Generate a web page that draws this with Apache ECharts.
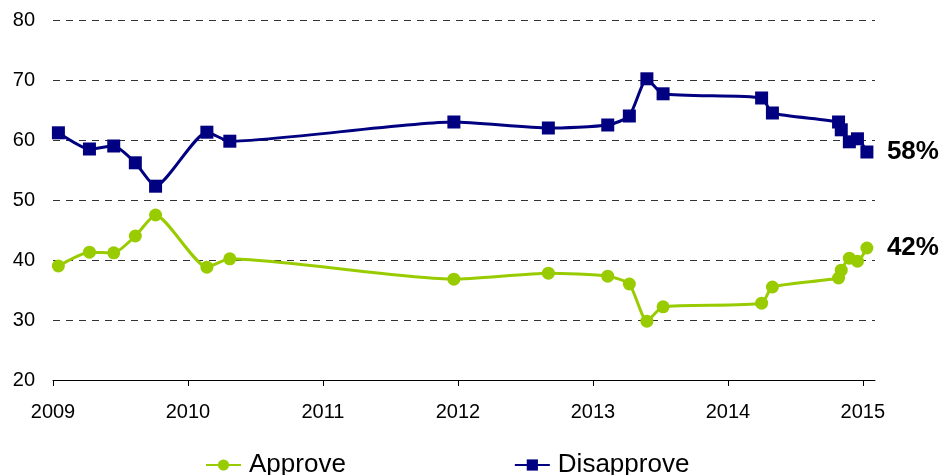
<!DOCTYPE html>
<html>
<head>
<meta charset="utf-8">
<script src="https://cdn.jsdelivr.net/npm/echarts@6/dist/echarts.min.js"></script>
<style>
  html, body { margin: 0; padding: 0; background: #fff; }
  #myChart { width: 945px; height: 475px; }
</style>
</head>
<body>
<div id="myChart"></div>
<script>
// survey dates as decimal years
var surveyDates = [2009.04, 2009.27, 2009.45, 2009.61, 2009.76, 2010.14, 2010.31, 2011.97, 2012.67, 2013.11,
                   2013.27, 2013.40, 2013.52, 2014.25, 2014.33, 2014.82, 2014.84, 2014.90, 2014.96, 2015.03];
var approve    = [39.0, 41.3, 41.2, 44.0, 47.5, 38.8, 40.2, 36.8, 37.8, 37.3,
                  36.0, 29.8, 32.2, 32.8, 35.5, 37.0, 38.3, 40.3, 39.8, 42.0];
var disapprove = [61.2, 58.5, 59.0, 56.2, 52.3, 61.3, 59.8, 63.0, 62.0, 62.5,
                  64.0, 70.2, 67.7, 67.0, 64.5, 63.0, 61.7, 59.7, 60.2, 58.0];
var yearTicks = [2009, 2010, 2011, 2012, 2013, 2014, 2015];

var font = 'Arial, "Liberation Sans", sans-serif';

function pairs(vals) {
    return surveyDates.map(function (d, i) { return [d, vals[i]]; });
}

var myChart = echarts.init(document.getElementById('myChart'));
var option = {
    animation: false,
    grid: { left: 53, right: 70, top: 20, bottom: 95, containLabel: false },
    legend: {
        left: 200,
        top: 447,
        itemWidth: 35,
        itemHeight: 14,
        itemGap: 168,
        textStyle: { fontFamily: font, fontSize: 26, color: '#000', padding: [0, 0, 0, 3] },
        data: ['Approve', 'Disapprove']
    },
    xAxis: {
        type: 'value',
        min: 2009,
        max: 2015.09,
        axisLine: { lineStyle: { color: '#000', width: 1 } },
        axisTick: { show: true, length: 6, inside: false, customValues: yearTicks, lineStyle: { color: '#000' } },
        axisLabel: {
            customValues: yearTicks,
            formatter: function (v) { return String(v); },
            margin: 22,
            fontFamily: font,
            fontSize: 20,
            color: '#000'
        },
        splitLine: { show: false }
    },
    yAxis: {
        type: 'value',
        min: 20,
        max: 80,
        interval: 10,
        axisLine: { show: false },
        axisTick: { show: false },
        axisLabel: { margin: 18, fontFamily: font, fontSize: 20, color: '#000' },
        splitLine: { lineStyle: { color: '#333', type: [7, 6], width: 1 } }
    },
    series: [
        {
            name: 'Approve',
            type: 'line',
            data: pairs(approve),
            smooth: 0.2,
            symbol: 'circle',
            symbolSize: 13,
            lineStyle: { color: '#99CC00', width: 3 },
            itemStyle: { color: '#99CC00' },
            endLabel: {
                show: true,
                distance: 20,
                formatter: function (p) { return Math.round(p.value[1]) + '%'; },
                fontFamily: font,
                fontSize: 26,
                fontWeight: 'bold',
                color: '#000'
            }
        },
        {
            name: 'Disapprove',
            type: 'line',
            data: pairs(disapprove),
            smooth: 0.2,
            symbol: 'rect',
            symbolSize: 13,
            lineStyle: { color: '#000080', width: 3 },
            itemStyle: { color: '#000080' },
            endLabel: {
                show: true,
                distance: 20,
                formatter: function (p) { return Math.round(p.value[1]) + '%'; },
                fontFamily: font,
                fontSize: 26,
                fontWeight: 'bold',
                color: '#000'
            }
        }
    ]
};
myChart.setOption(option);
</script>
</body>
</html>
